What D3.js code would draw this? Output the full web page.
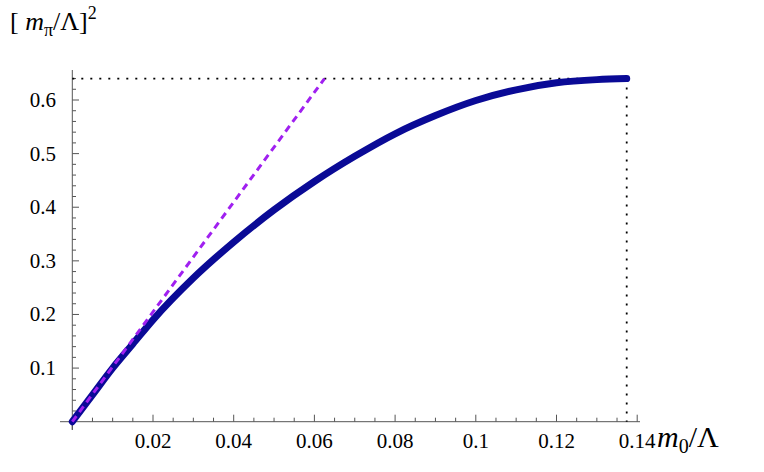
<!DOCTYPE html><html><head><meta charset="utf-8"><script src="https://cdn.jsdelivr.net/npm/d3@7"></script>
<style>body{margin:0;background:#fff} text{font-family:'Liberation Serif','Times New Roman',serif}</style></head><body><svg id="c" width="764" height="472"></svg><script>
const curveX=[0,0.005,0.01,0.015,0.02,0.03,0.04,0.05,0.06,0.07,0.08,0.09,0.1,0.11,0.12,0.13,0.1374];
const curveY=[0,0.05,0.1,0.145,0.19,0.268,0.335,0.395,0.448,0.495,0.537,0.571,0.599,0.619,0.632,0.638,0.64];
const lineX=[0,0.0625];
const lineY=[0,0.64];
const xTicks=[0.02,0.04,0.06,0.08,0.1,0.12,0.14];
const yTicks=[0.1,0.2,0.3,0.4,0.5,0.6];
const svg=d3.select("#c");
const x=d3.scaleLinear().domain([0,0.14]).range([72.3,637.2]);
const y=d3.scaleLinear().domain([0,0.6]).range([421.7,100]);
const xa=svg.append("g").attr("transform","translate(0,421.7)");
xa.append("line").attr("x1",60).attr("x2",640).attr("stroke","#555");
xa.selectAll(".mt").data(d3.range(1,29).map(i=>i*0.005)).join("line").attr("x1",d=>x(d)).attr("x2",d=>x(d)).attr("y1",0).attr("y2",d=>Math.abs(d/0.02-Math.round(d/0.02))<1e-6?-7:-4).attr("stroke","#555");
xa.append("line").attr("x1",x(0)).attr("x2",x(0)).attr("y1",0).attr("y2",8).attr("stroke","#555");
xa.selectAll("text").data(xTicks).join("text").attr("x",d=>x(d)).attr("y",26).attr("text-anchor","middle").attr("font-size",21).text(d=>d3.format("~g")(d));
const ya=svg.append("g");
ya.append("line").attr("x1",72.3).attr("x2",72.3).attr("y1",70).attr("y2",430).attr("stroke","#555");
ya.selectAll(".mt").data(d3.range(1,33).map(i=>i*0.02)).join("line").attr("y1",d=>y(d)).attr("y2",d=>y(d)).attr("x1",72.3).attr("x2",d=>Math.abs(d/0.1-Math.round(d/0.1))<1e-6?79:76).attr("stroke","#555");
ya.selectAll("text").data(yTicks).join("text").attr("x",56).attr("y",d=>y(d)+7).attr("text-anchor","end").attr("font-size",21).text(d=>d3.format(".1f")(d));
svg.append("line").attr("x1",x(0)).attr("x2",x(0.1374)).attr("y1",y(0.64)).attr("y2",y(0.64)).attr("stroke","#000").attr("stroke-width",1.8).attr("stroke-dasharray","2,7");
svg.append("line").attr("x1",x(0.1374)).attr("x2",x(0.1374)).attr("y1",y(0.64)).attr("y2",y(0)).attr("stroke","#000").attr("stroke-width",1.8).attr("stroke-dasharray","2,7");
const ln=d3.line().x(d=>x(d[0])).y(d=>y(d[1])).curve(d3.curveMonotoneX);
svg.append("path").attr("d",ln(curveX.map((v,i)=>[v,curveY[i]]))).attr("fill","none").attr("stroke","#0a0a96").attr("stroke-width",7).attr("stroke-linecap","round");
svg.append("path").attr("d",ln(lineX.map((v,i)=>[v,lineY[i]]))).attr("fill","none").attr("stroke","#a020f0").attr("stroke-width",3).attr("stroke-dasharray","7,5");
const t1=svg.append("text").attr("x",10).attr("y",30).attr("font-size",26);
t1.append("tspan").text("[ ");t1.append("tspan").attr("font-style","italic").text("m");
t1.append("tspan").attr("font-size",18).attr("dy",6).text("π");t1.append("tspan").attr("dy",-6).text("/Λ]");
t1.append("tspan").attr("font-size",18).attr("dy",-11).text("2");
const t2=svg.append("text").attr("x",657).attr("y",447).attr("font-size",30);
t2.append("tspan").attr("font-style","italic").text("m");t2.append("tspan").attr("font-size",20).attr("dy",6).text("0");t2.append("tspan").attr("dy",-6).text("/Λ");
</script></body></html>
